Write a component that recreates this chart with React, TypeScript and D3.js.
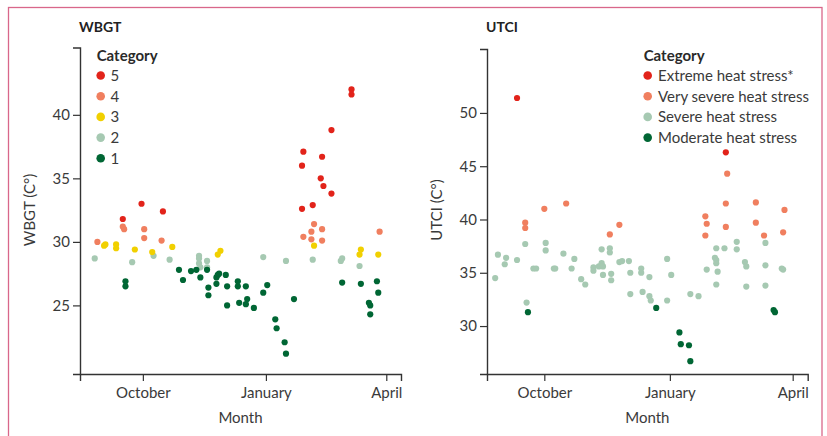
import React, { useRef, useEffect } from "react";
import * as d3 from "d3";

type Pt = [string, number];

// WBGT category points: [date, value]
const wbgt5: Pt[] = [
  ["2018-09-16", 31.8], ["2018-09-30", 33.0], ["2018-10-16", 32.4], ["2019-01-28", 32.6],
  ["2019-02-05", 32.9], ["2019-01-28", 36.0], ["2019-01-29", 37.1], ["2019-02-11", 35.0],
  ["2019-02-13", 34.4], ["2019-02-12", 36.7], ["2019-02-19", 33.8], ["2019-02-19", 38.8],
  ["2019-03-06", 42.0], ["2019-03-06", 41.6],
];
const wbgt4: Pt[] = [
  ["2018-08-28", 30.0], ["2018-09-16", 31.2], ["2018-09-17", 31.0], ["2018-10-02", 31.0],
  ["2018-10-02", 30.3], ["2018-10-15", 30.1], ["2019-01-29", 30.4], ["2019-02-04", 30.8],
  ["2019-02-04", 30.2], ["2019-02-06", 31.4], ["2019-02-12", 31.0], ["2019-02-12", 30.1],
  ["2019-03-27", 30.8],
];
const wbgt3: Pt[] = [
  ["2018-09-02", 29.7], ["2018-09-03", 29.8], ["2018-09-11", 29.8], ["2018-09-11", 29.5],
  ["2018-09-25", 29.4], ["2018-10-08", 29.2], ["2018-10-23", 29.6], ["2018-11-26", 29.0],
  ["2018-11-28", 29.3], ["2019-02-06", 29.7], ["2019-03-12", 29.0], ["2019-03-13", 29.4],
  ["2019-03-26", 29.0],
];
const wbgt2: Pt[] = [
  ["2018-08-26", 28.7], ["2018-09-23", 28.4], ["2018-10-09", 28.9], ["2018-10-21", 28.6],
  ["2018-11-12", 28.9], ["2018-11-12", 28.7], ["2018-11-12", 28.3], ["2018-11-13", 28.0],
  ["2018-11-18", 28.5], ["2018-11-18", 28.0], ["2018-12-30", 28.8], ["2019-01-16", 28.5],
  ["2019-02-05", 28.6], ["2019-02-26", 28.5], ["2019-02-27", 28.7], ["2019-03-12", 28.1],
];
const wbgt1: Pt[] = [
  ["2018-09-18", 26.9], ["2018-09-18", 26.5], ["2018-10-28", 27.8], ["2018-10-31", 27.0],
  ["2018-11-06", 27.7], ["2018-11-10", 27.8], ["2018-11-13", 27.2], ["2018-11-18", 27.8],
  ["2018-11-19", 26.4], ["2018-11-19", 25.8], ["2018-11-25", 27.2], ["2018-11-25", 26.7],
  ["2018-11-26", 27.4], ["2018-11-27", 27.5], ["2018-12-02", 27.4], ["2018-12-03", 26.5],
  ["2018-12-03", 25.0], ["2018-12-11", 26.9], ["2018-12-11", 26.5], ["2018-12-12", 25.2],
  ["2018-12-17", 26.5], ["2018-12-17", 25.1], ["2018-12-18", 25.5], ["2018-12-23", 24.8],
  ["2018-12-30", 26.0], ["2019-01-02", 26.6], ["2019-01-08", 23.9], ["2019-01-09", 23.2],
  ["2019-01-15", 22.1], ["2019-01-16", 21.2], ["2019-01-22", 25.5], ["2019-02-27", 26.8],
  ["2019-03-13", 26.7], ["2019-03-19", 25.2], ["2019-03-20", 25.0], ["2019-03-20", 24.3],
  ["2019-03-25", 26.9], ["2019-03-26", 26.0],
];

// UTCI category points
const utciExtreme: Pt[] = [["2018-09-11", 51.4], ["2019-02-11", 46.3]];
const utciVerySevere: Pt[] = [
  ["2018-09-17", 39.7], ["2018-09-17", 39.2], ["2018-10-01", 41.0], ["2018-10-17", 41.5],
  ["2018-11-18", 38.6], ["2018-11-25", 39.5], ["2019-01-27", 40.3], ["2019-01-28", 39.6],
  ["2019-01-27", 38.5], ["2019-02-12", 44.3], ["2019-02-11", 41.5], ["2019-02-11", 39.3],
  ["2019-03-05", 41.6], ["2019-03-05", 39.7], ["2019-03-11", 38.5], ["2019-03-26", 40.9],
  ["2019-03-25", 38.8],
];
const utciSevere: Pt[] = [
  ["2018-08-26", 34.5], ["2018-08-28", 36.7], ["2018-09-02", 35.8], ["2018-09-03", 36.4],
  ["2018-09-11", 36.2], ["2018-09-17", 37.7], ["2018-09-18", 32.2], ["2018-09-23", 35.4],
  ["2018-09-25", 35.4], ["2018-10-02", 37.8], ["2018-10-02", 37.1], ["2018-10-08", 35.4],
  ["2018-10-09", 35.4], ["2018-10-15", 36.8], ["2018-10-21", 35.4], ["2018-10-23", 36.3],
  ["2018-10-28", 34.4], ["2018-10-31", 33.9], ["2018-11-06", 35.5], ["2018-11-06", 35.2],
  ["2018-11-10", 35.6], ["2018-11-12", 37.2], ["2018-11-12", 35.9], ["2018-11-13", 35.6],
  ["2018-11-13", 34.8], ["2018-11-18", 37.3], ["2018-11-18", 36.9], ["2018-11-19", 34.9],
  ["2018-11-19", 34.3], ["2018-11-25", 36.0], ["2018-11-27", 36.1], ["2018-12-02", 36.1],
  ["2018-12-03", 35.0], ["2018-12-03", 33.0], ["2018-12-11", 35.4], ["2018-12-11", 35.0],
  ["2018-12-12", 33.2], ["2018-12-17", 34.6], ["2018-12-17", 32.8], ["2018-12-18", 32.4],
  ["2018-12-30", 36.3], ["2018-12-30", 32.4], ["2019-01-02", 34.8], ["2019-01-16", 33.0],
  ["2019-01-22", 32.8], ["2019-01-28", 35.3], ["2019-02-03", 36.4], ["2019-02-04", 36.2],
  ["2019-02-04", 35.9], ["2019-02-04", 37.3], ["2019-02-04", 33.9], ["2019-02-05", 35.1],
  ["2019-02-10", 37.3], ["2019-02-19", 37.9], ["2019-02-19", 37.2], ["2019-02-25", 36.0],
  ["2019-02-26", 35.6], ["2019-02-26", 33.7], ["2019-03-12", 37.8], ["2019-03-12", 35.7],
  ["2019-03-12", 33.8], ["2019-03-24", 35.4], ["2019-03-25", 35.3],
];
const utciModerate: Pt[] = [
  ["2018-09-19", 31.3], ["2018-12-22", 31.7], ["2019-01-08", 29.4], ["2019-01-09", 28.3],
  ["2019-01-15", 28.2], ["2019-01-16", 26.7], ["2019-03-18", 31.5], ["2019-03-19", 31.3],
];

const monthTicks = ["2018-10-01", "2019-01-01", "2019-04-01"];
const wbgtTicks = [25, 30, 35, 40];
const utciTicks = [30, 35, 40, 45, 50];

const RED = "#e2231a";
const ORANGE = "#f07f5f";
const YELLOW = "#f1d000";
const LIGHT = "#a6c9b2";
const DARK = "#006634";

const FONT = "Lato, 'Open Sans', sans-serif";
const TEXT = "#333";

const parse = d3.timeParse("%Y-%m-%d");

const App = () => {
  const ref = useRef<SVGSVGElement>(null);

  useEffect(() => {
    const svg = d3.select(ref.current);
    svg.selectAll("*").remove();

    // frame
    svg.append("rect")
      .attr("x", 8.5).attr("y", 7.5).attr("width", 813.5).attr("height", 440)
      .attr("fill", "none").attr("stroke", "#d9678a").attr("stroke-width", 1.3);

    const panel = (opts: {
      left: number; right: number; top: number; bottom: number;
      start: string; end: string; yDomain: [number, number]; yTicks: number[];
      title: string; yLabel: string;
      series: { label: string; color: string; pts: Pt[] }[];
      drawOrder: number[];
      legendX: number; legendLabelX: number;
    }) => {
      const x = d3.scaleTime()
        .domain([parse(opts.start)!, parse(opts.end)!])
        .range([opts.left, opts.right]);
      const y = d3.scaleLinear().domain(opts.yDomain).range([opts.bottom, opts.top]);

      // axes
      const gx = svg.append("g")
        .attr("transform", `translate(0,${opts.bottom})`)
        .call(d3.axisBottom(x)
          .tickValues(monthTicks.map(d => parse(d)!))
          .tickFormat(d3.timeFormat("%B") as any)
          .tickSizeOuter(0).tickSize(7).tickPadding(6));
      const gy = svg.append("g")
        .attr("transform", `translate(${opts.left},0)`)
        .call(d3.axisLeft(y).tickValues(opts.yTicks).tickSizeOuter(0).tickSize(7).tickPadding(3));
      [gx, gy].forEach(g => {
        g.select(".domain").attr("stroke", TEXT).attr("stroke-width", 1.4);
        g.selectAll(".tick line").attr("stroke", TEXT).attr("stroke-width", 1.2);
        g.selectAll("text").attr("fill", "#3a3a3a").style("font-family", FONT).style("font-size", "15px");
      });

      // title
      svg.append("text")
        .attr("x", opts.left - 1).attr("y", 32)
        .attr("fill", "#222").style("font-family", FONT)
        .style("font-size", "14px").style("font-weight", 700)
        .text(opts.title);

      // axis labels
      svg.append("text")
        .attr("x", (opts.left + opts.right) / 2).attr("y", 423)
        .attr("text-anchor", "middle").attr("fill", "#3a3a3a")
        .style("font-family", FONT).style("font-size", "15px")
        .text("Month");
      svg.append("text")
        .attr("transform", `translate(${opts.left - 45},210) rotate(-90)`)
        .attr("text-anchor", "middle").attr("fill", "#3a3a3a")
        .style("font-family", FONT).style("font-size", "15px")
        .text(opts.yLabel);

      // points
      opts.drawOrder.forEach(i => {
        const s = opts.series[i];
        svg.append("g").selectAll("circle")
          .data(s.pts)
          .join("circle")
          .attr("cx", d => x(parse(d[0])!))
          .attr("cy", d => y(d[1]))
          .attr("r", 3.1)
          .attr("fill", s.color);
      });

      // legend
      const lg = svg.append("g");
      lg.append("text")
        .attr("x", opts.legendX - 4).attr("y", 61)
        .attr("fill", "#2a2a2a").style("font-family", FONT)
        .style("font-size", "15px").style("font-weight", 700)
        .text("Category");
      opts.series.forEach((s, i) => {
        const cy = 75.5 + i * 20.7;
        lg.append("circle").attr("cx", opts.legendX).attr("cy", cy).attr("r", 4.3).attr("fill", s.color);
        lg.append("text")
          .attr("x", opts.legendLabelX).attr("y", cy + 5.5)
          .attr("fill", "#3a3a3a").style("font-family", FONT).style("font-size", "15px")
          .text(s.label);
      });
    };

    panel({
      left: 80, right: 401, top: 47.5, bottom: 374,
      start: "2018-08-15", end: "2019-04-12",
      yDomain: [19.6, 45.3], yTicks: wbgtTicks,
      title: "WBGT", yLabel: "WBGT (C°)",
      series: [
        { label: "5", color: RED, pts: wbgt5 },
        { label: "4", color: ORANGE, pts: wbgt4 },
        { label: "3", color: YELLOW, pts: wbgt3 },
        { label: "2", color: LIGHT, pts: wbgt2 },
        { label: "1", color: DARK, pts: wbgt1 },
      ],
      drawOrder: [3, 2, 1, 0, 4],
      legendX: 100.7, legendLabelX: 110.5,
    });

    panel({
      left: 487, right: 807.7, top: 49, bottom: 374,
      start: "2018-08-20", end: "2019-04-12",
      yDomain: [25.5, 56], yTicks: utciTicks,
      title: "UTCI", yLabel: "UTCI (C°)",
      series: [
        { label: "Extreme heat stress*", color: RED, pts: utciExtreme },
        { label: "Very severe heat stress", color: ORANGE, pts: utciVerySevere },
        { label: "Severe heat stress", color: LIGHT, pts: utciSevere },
        { label: "Moderate heat stress", color: DARK, pts: utciModerate },
      ],
      drawOrder: [2, 1, 0, 3],
      legendX: 647.7, legendLabelX: 658,
    });
  }, []);

  return (
    <svg
      ref={ref}
      width={827}
      height={436}
      style={{ position: "absolute", left: 0, top: 0, background: "#fff" }}
    />
  );
};

export default App;
